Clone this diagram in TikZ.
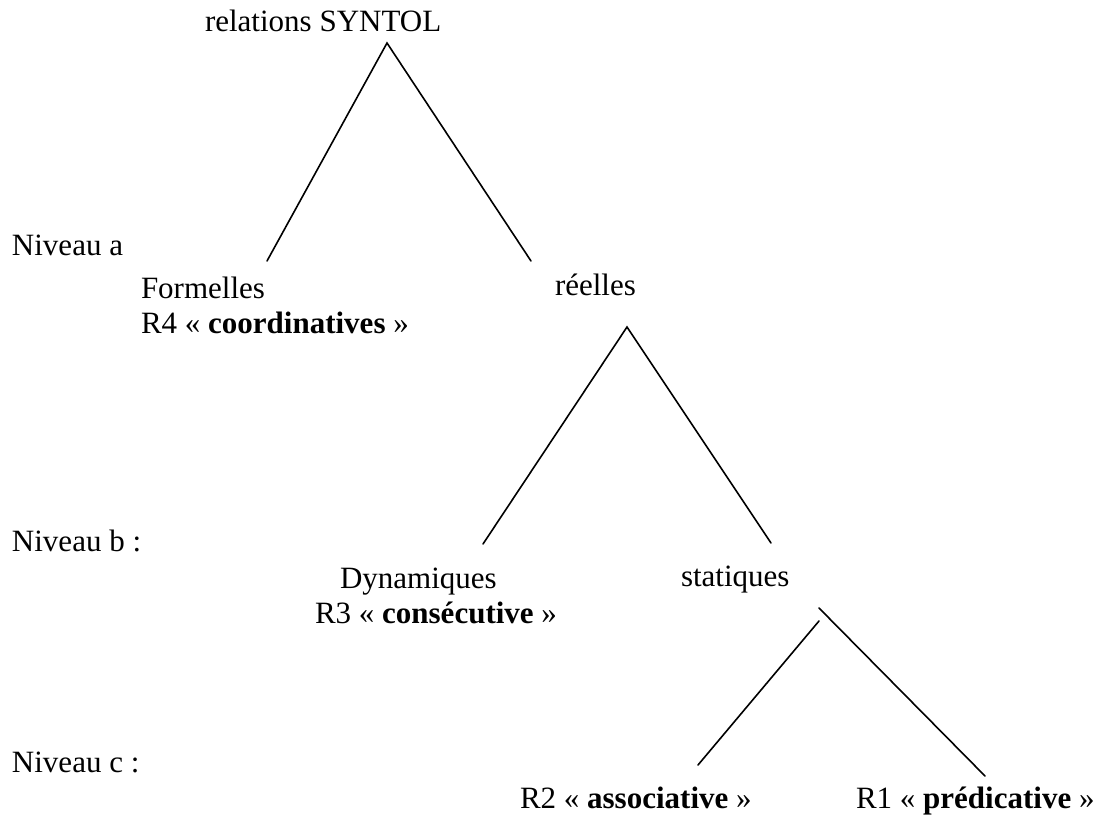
\documentclass[tikz,border=0pt]{standalone}
\usepackage{fontspec}
\setmainfont{Liberation Serif}
\begin{document}
\begin{tikzpicture}[x=1pt,y=-1pt,
  lbl/.style={anchor=base west,inner sep=0pt,outer sep=0pt,font=\fontsize{31}{37}\selectfont},
  branch/.style={line width=1.6pt,line cap=round}]
\useasboundingbox[fill=white] (0,0) rectangle (1103,817);
% texts
\node[lbl] (root) at (205,31) {relations SYNTOL};
\node[lbl] (niva) at (12,255) {Niveau a};
\node[lbl] (form) at (141,298) {Formelles};
\node[lbl] (r4) at (141,333) {R4 « \textbf{coordinatives} »};
\node[lbl] (reel) at (555,295) {réelles};
\node[lbl] (nivb) at (12,551) {Niveau b :};
\node[lbl] (dyn) at (340,588) {Dynamiques};
\node[lbl] (r3) at (315,623) {R3 « \textbf{consécutive} »};
\node[lbl] (stat) at (681,586) {statiques};
\node[lbl] (nivc) at (12,772) {Niveau c :};
\node[lbl] (r2) at (520,808) {R2 « \textbf{associative} »};
\node[lbl] (r1) at (856,808) {R1 « \textbf{prédicative} »};
% branch ends
\coordinate (topA) at (387,43);
\coordinate (topL) at (267,261);
\coordinate (topR) at (531,261);
\coordinate (midA) at (627,327);
\coordinate (midL) at (483,544);
\coordinate (midR) at (771,543);
\coordinate (botAL) at (819,621);
\coordinate (botAR) at (819,608);
\coordinate (botL) at (698,765);
\coordinate (botR) at (985,776);
\draw[branch] (topL) -- (topA) -- (topR);
\draw[branch] (midL) -- (midA) -- (midR);
\draw[branch] (botAL) -- (botL);
\draw[branch] (botAR) -- (botR);
\end{tikzpicture}
\end{document}
